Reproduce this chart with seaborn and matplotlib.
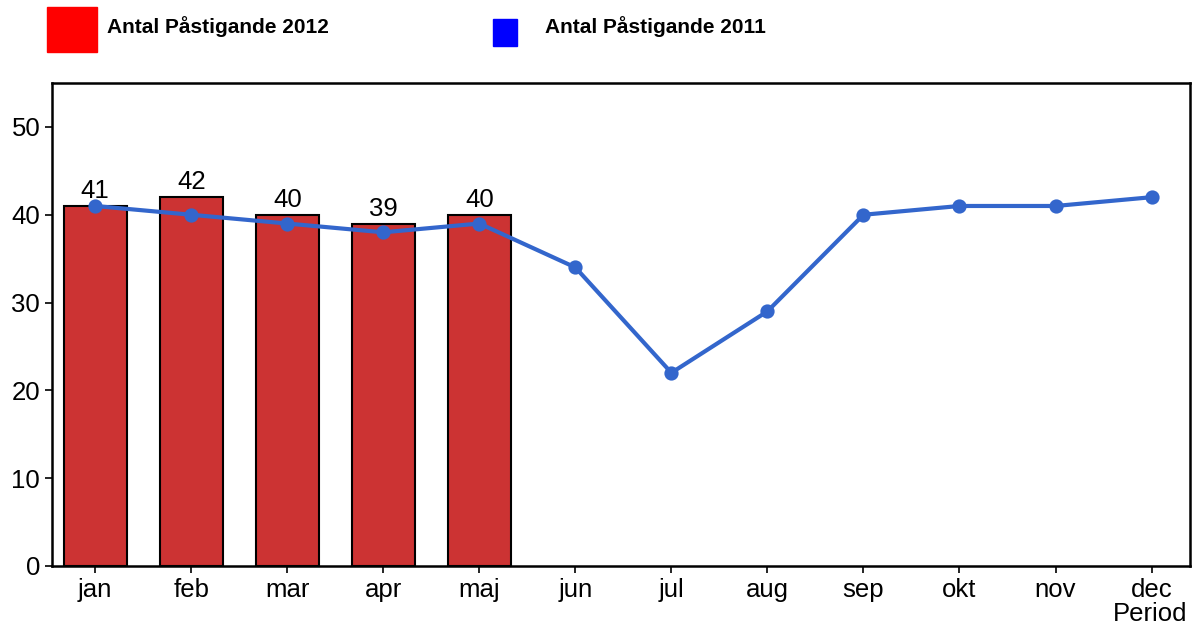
import pandas as pd
import matplotlib.pyplot as plt
import seaborn as sns
from matplotlib.patches import Rectangle

sns.set_style('white')
plt.rcParams['font.family'] = ['Liberation Sans', 'DejaVu Sans']
plt.rcParams['text.color'] = 'black'
plt.rcParams['xtick.color'] = 'black'
plt.rcParams['ytick.color'] = 'black'

# Data
months = ['jan', 'feb', 'mar', 'apr', 'maj', 'jun', 'jul', 'aug', 'sep', 'okt', 'nov', 'dec']
months_2012 = ['jan', 'feb', 'mar', 'apr', 'maj']
values_2012 = [41, 42, 40, 39, 40]
values_2011 = [41, 40, 39, 38, 39, 34, 22, 29, 40, 41, 41, 42]

df12 = pd.DataFrame({'Period': months_2012, 'Antal': values_2012})
df11 = pd.DataFrame({'Period': months, 'Antal': values_2011})

fig = plt.figure(figsize=(12.01, 6.34), dpi=100)
ax = fig.add_axes([0.0433, 0.1073, 0.9475, 0.7617])

sns.barplot(data=df12, x='Period', y='Antal', order=months, color='#CC3333',
            saturation=1, width=0.66, edgecolor='black', linewidth=1.5, ax=ax)
ax.bar_label(ax.containers[0], fontsize=18.5, padding=2, color='black')

sns.pointplot(data=df11, x='Period', y='Antal', order=months, color='#3366CC',
              markers='o', markersize=8, linewidth=3, ax=ax)

ax.set_ylim(0, 55)
ax.set_xlim(-0.45, 11.4)
ax.set_yticks(range(0, 51, 10))
ax.set_xlabel('')
ax.set_ylabel('')
ax.tick_params(axis='both', labelsize=18.5, length=5, width=1.2, color='black',
               labelcolor='black', direction='out', left=True, bottom=True)
for s in ax.spines.values():
    s.set_color('black')
    s.set_linewidth(1.8)

fig.text(0.989, 0.012, 'Period', ha='right', va='bottom', fontsize=18.5)

# Legend
fig.patches.append(Rectangle((47 / 1201, 1 - 52 / 634), 50 / 1201, 45 / 634,
                             transform=fig.transFigure, color='red'))
fig.text(107 / 1201, 1 - 27 / 634, 'Antal Påstigande 2012', fontsize=15,
         fontweight='bold', va='center')
fig.patches.append(Rectangle((493 / 1201, 1 - 46 / 634), 24 / 1201, 27 / 634,
                             transform=fig.transFigure, color='blue'))
fig.text(545 / 1201, 1 - 27 / 634, 'Antal Påstigande 2011', fontsize=15,
         fontweight='bold', va='center')

plt.savefig('out.png', dpi=100)
